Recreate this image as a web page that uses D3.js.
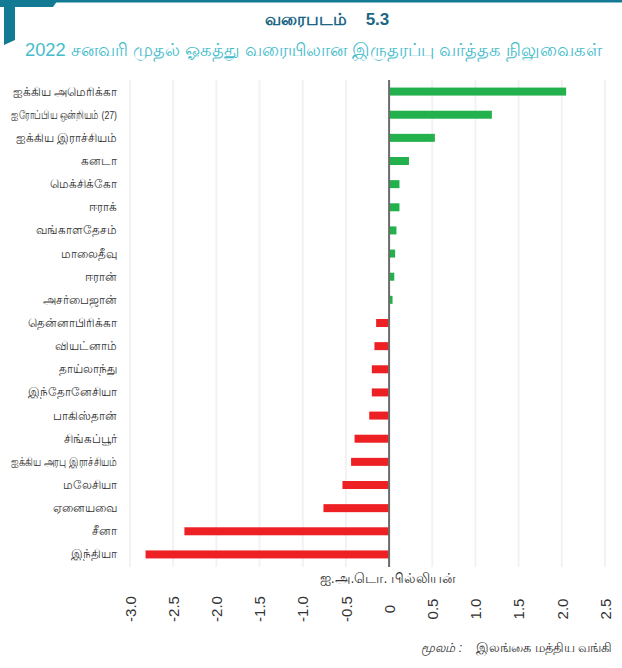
<!DOCTYPE html>
<html>
<head>
<meta charset="utf-8">
<script src="https://cdn.jsdelivr.net/npm/d3@7"></script>
<style>
  body { margin: 0; background: #fff; }
  svg { display: block; font-family: "Liberation Sans Narrow", "Liberation Sans", "Noto Sans", sans-serif; }
</style>
</head>
<body>
<svg id="chart"></svg>
<script>
const countries = [
  "ஐக்கிய அமெரிக்கா", "ஐரோப்பிய ஒன்றியம் (27)", "ஐக்கிய இராச்சியம்", "கனடா", "மெக்சிக்கோ",
  "ஈராக்", "வங்காளதேசம்", "மாலைதீவு", "ஈரான்", "அசர்பைஜான்",
  "தென்னாபிரிக்கா", "வியட்னாம்", "தாய்லாந்து", "இந்தோனேசியா", "பாகிஸ்தான்",
  "சிங்கப்பூர்", "ஐக்கிய அரபு இராச்சியம்", "மலேசியா", "ஏனையவை", "சீனா", "இந்தியா"
];
const balances = [
  2.05, 1.19, 0.53, 0.23, 0.12,
  0.12, 0.085, 0.07, 0.06, 0.04,
  -0.15, -0.17, -0.20, -0.20, -0.23,
  -0.40, -0.44, -0.54, -0.76, -2.37, -2.82
];
const ticks = [-3.0, -2.5, -2.0, -1.5, -1.0, -0.5, 0, 0.5, 1.0, 1.5, 2.0, 2.5];

const chartNo = "வரைபடம்    5.3";
const title = "2022 சனவரி முதல் ஓகத்து வரையிலான இருதரப்பு வர்த்தக நிலுவைகள்";
const unit = "ஐ.அ.டொ. பில்லியன்";
const sourceLabel = "மூலம் :";
const sourceText = "இலங்கை மத்திய வங்கி";

const W = 622, H = 668;
const data = countries.map((c, i) => ({ country: c, value: balances[i] }));

const svg = d3.select("#chart").attr("width", W).attr("height", H);

// header decoration
const teal = "#137a93";
svg.append("rect").attr("x", 0).attr("y", 0).attr("width", W).attr("height", 2.5).attr("fill", teal);
svg.append("path").attr("fill", teal)
  .attr("d", "M0,0 L58,0 L53,7 L15,7 L15,40 L4,45 L4,7 L0,7 Z");

svg.append("text").attr("x", 327).attr("y", 25).attr("text-anchor", "middle")
  .attr("fill", "#1c6685").style("font-size", "17px").style("font-weight", "bold")
  .attr("xml:space", "preserve").text(chartNo);

// subtitle: fit into the 25..610 span
const sub = svg.append("text").attr("x", 25).attr("y", 56)
  .attr("fill", "#45bccb").style("font-size", "20px")
  .text(title);
const subLen = sub.node().getComputedTextLength();
if (subLen > 585) {
  sub.style("font-size", (20 * 585 / subLen).toFixed(2) + "px");
} else {
  sub.attr("textLength", 585).attr("lengthAdjust", "spacing");
}

const x = d3.scaleLinear().domain([-3, 2.5]).range([130, 605]);
const y = d3.scaleBand().domain(countries).range([80, 566]);
const barH = 8;

// gridlines
svg.append("g").selectAll("line").data(ticks.filter(t => t !== 0)).enter().append("line")
  .attr("x1", d => x(d)).attr("x2", d => x(d))
  .attr("y1", 80).attr("y2", 567)
  .attr("stroke", "#f2f2f2").attr("stroke-width", 2);

// bars
svg.append("g").selectAll("rect").data(data).enter().append("rect")
  .attr("x", d => x(Math.min(0, d.value)))
  .attr("y", d => y(d.country) + y.bandwidth() / 2 - barH / 2)
  .attr("width", d => Math.abs(x(d.value) - x(0)))
  .attr("height", barH)
  .attr("fill", d => d.value >= 0 ? "#22b14c" : "#ed2024");

// zero line
svg.append("line").attr("x1", x(0)).attr("x2", x(0)).attr("y1", 80).attr("y2", 567)
  .attr("stroke", "#6b6b6b").attr("stroke-width", 2);

// category labels (squeezed if wider than the left margin)
const maxLabel = 106;
svg.append("g").selectAll("text").data(data).enter().append("text")
  .attr("x", 117).attr("y", d => y(d.country) + y.bandwidth() / 2 + 4)
  .attr("text-anchor", "end").attr("fill", "#333")
  .style("font-size", "11.5px")
  .text(d => d.country)
  .each(function() {
    const len = this.getComputedTextLength();
    if (len > maxLabel) d3.select(this).attr("textLength", maxLabel).attr("lengthAdjust", "spacingAndGlyphs");
  });

// unit label
svg.append("text").attr("x", 388).attr("y", 583).attr("text-anchor", "middle")
  .attr("fill", "#333").style("font-size", "14px").text(unit);

// x axis (rotated tick labels)
const axis = svg.append("g").attr("transform", "translate(0,597)")
  .call(d3.axisBottom(x).tickValues(ticks).tickSize(0).tickPadding(0)
    .tickFormat(d => d === 0 ? "0" : d.toFixed(1)));
axis.select(".domain").remove();
axis.selectAll("text")
  .attr("transform", "rotate(-90)")
  .attr("x", -12).attr("y", 0).attr("dy", "0.35em")
  .attr("text-anchor", "middle")
  .attr("fill", "#333").style("font-size", "15px")
  .style("font-family", "'Liberation Sans', sans-serif");

// source
const src = svg.append("text").attr("x", 612).attr("y", 652).attr("text-anchor", "end")
  .attr("fill", "#333").style("font-size", "12.5px").attr("xml:space", "preserve");
src.append("tspan").style("font-style", "italic").text(sourceLabel);
src.append("tspan").text("    " + sourceText);
</script>
</body>
</html>
